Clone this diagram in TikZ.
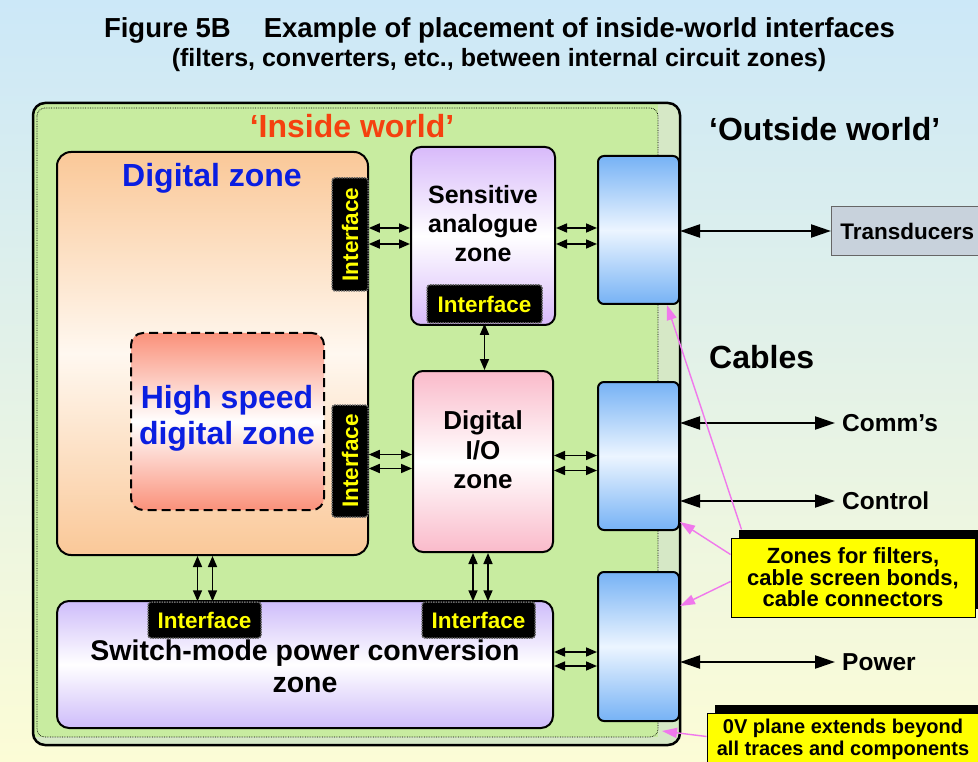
\documentclass[tikz,border=0pt]{standalone}
\usepackage{fontspec}
\setmainfont{Liberation Sans}
\usepackage{tikz}
\usetikzlibrary{arrows.meta,shadows}

\definecolor{bgtop}{RGB}{204,232,248}
\definecolor{bgbot}{RGB}{252,252,214}
\definecolor{boardgreen}{RGB}{200,236,160}
\definecolor{boardedge}{RGB}{214,232,198}
\definecolor{insidered}{RGB}{245,65,15}
\definecolor{zoneblue}{RGB}{10,30,225}
\definecolor{peach}{RGB}{250,200,152}
\definecolor{peachpale}{RGB}{255,248,240}
\definecolor{salmon}{RGB}{250,145,122}
\definecolor{lilac}{RGB}{216,186,250}
\definecolor{rosepink}{RGB}{250,186,202}
\definecolor{powerlilac}{RGB}{206,188,250}
\definecolor{connblue}{RGB}{118,178,245}
\definecolor{connpale}{RGB}{236,245,255}
\definecolor{ifyellow}{RGB}{255,255,0}
\definecolor{transgrey}{RGB}{200,210,220}
\definecolor{notepink}{RGB}{240,120,236}

\newcommand{\fsz}[2]{\fontsize{#1}{#2}\selectfont\bfseries}

\begin{document}
\begin{tikzpicture}[x=1pt, y=-1pt,
        zone/.style={draw, line width=2pt, rounded corners=14pt, inner sep=0pt},
        iface/.style={fill=black, draw=black!60, densely dotted, line width=1.5pt, rounded corners=3pt, inner sep=0pt,
                text=ifyellow, font=\fsz{22.5}{22.5}, minimum width=113pt, minimum height=36pt},
        conn/.style={draw, line width=2pt, rounded corners=6pt, minimum width=81pt, minimum height=148pt,
                top color=connblue, bottom color=connblue, middle color=connpale},
        link/.style={{Triangle[length=11pt,width=9pt]}-{Triangle[length=11pt,width=9pt]}, line width=1.6pt},
        cable/.style={{Triangle[length=20pt,width=13pt]}-{Triangle[length=20pt,width=13pt]}, line width=2.2pt},
        pointer/.style={-{Triangle[length=15pt,width=10pt]}, draw=notepink, line width=1.4pt},
        note/.style={draw, line width=1pt, fill=ifyellow, align=center, inner sep=0pt,
                drop shadow={shadow xshift=8pt, shadow yshift=8pt, fill=black, opacity=1}}]
        \clip (0,0) rectangle (978,762);
        \shade[top color=bgtop, bottom color=bgbot] (0,0) rectangle (978,762);

        \node[font=\fsz{27.5}{27.5}] (title) at (499.5,30) {Figure 5B\hspace{33pt}Example of placement of inside-world interfaces};
        \node[font=\fsz{25}{25}] (subtitle) at (499,60) {(filters, converters, etc., between internal circuit zones)};

        \fill[boardedge, rounded corners=12pt] (33,103) rectangle (680,745);
        \begin{scope}
                \clip[rounded corners=12pt] (33,103) rectangle (680,745);
                \fill[boardgreen] (20,90) rectangle (658,737);
        \end{scope}
        \draw[densely dotted, line width=0.7pt, rounded corners=8pt] (37,108) rectangle (658,737);
        \draw[line width=2.5pt, rounded corners=12pt] (33,103) rectangle (680,745);

        \node[zone, minimum width=311pt, minimum height=403pt, top color=peach, bottom color=peach, middle color=peachpale] (dz) at (212.5,353.5) {};
        \node[zone, dash pattern=on 9pt off 5pt, rounded corners=12pt, minimum width=193pt, minimum height=177pt,
                top color=salmon, bottom color=salmon, middle color=white] (hs) at (227.5,421.5) {};
        \node[zone, rounded corners=10pt, minimum width=144pt, minimum height=178pt, top color=lilac, bottom color=lilac, middle color=white] (sens) at (483,236) {};
        \node[zone, rounded corners=10pt, minimum width=140pt, minimum height=181pt, top color=rosepink, bottom color=rosepink, middle color=white] (dio) at (483,461.5) {};
        \node[zone, rounded corners=12pt, minimum width=496pt, minimum height=127pt, top color=powerlilac, bottom color=powerlilac, middle color=white] (pw) at (305,664.5) {};

        \node[font=\fsz{32}{32}, text=insidered] (insidelbl) at (352,126) {‘Inside world’};
        \node[font=\fsz{32}{32}, text=zoneblue] (dzlbl) at (212,178) {Digital zone};
        \node[font=\fsz{32}{36}, text=zoneblue, align=center] (hslbl) at (227,418) {High speed\\digital zone};
        \node[font=\fsz{25}{29}, align=center] (senslbl) at (483,224) {Sensitive\\analogue\\zone};
        \node[font=\fsz{26}{29.5}, align=center] (diolbl) at (483,450) {Digital\\I/O\\zone};
        \node[font=\fsz{28.5}{32}, align=center] (pwlbl) at (305,666) {Switch-mode power conversion\\zone};

        \node[iface, rotate=90] (ifA) at (350,234.5) {Interface};
        \node[iface, rotate=90, minimum width=112pt] (ifB) at (350,461) {Interface};
        \node[iface, minimum width=115pt, minimum height=38pt] (ifS) at (484.5,304) {Interface};
        \node[iface] (ifP1) at (204.5,620) {Interface};
        \node[iface] (ifP2) at (478.5,620) {Interface};

        \node[conn] (cz1) at (638.5,230) {};
        \node[conn] (cz2) at (638.5,456) {};
        \node[conn, minimum height=149pt] (cz3) at (638.5,646.5) {};

        \node[font=\fsz{32}{32}, anchor=west, inner sep=0pt] (outlbl) at (709,129) {‘Outside world’};
        \node[font=\fsz{32}{32}, anchor=west, inner sep=0pt] (cablbl) at (709,357) {Cables};
        \node[draw=black!60, fill=transgrey, line width=0.8pt, anchor=west, minimum height=49pt, text width=150pt,
                inner xsep=9pt, font=\fsz{22.5}{22.5}] (trans) at (831,231) {Transducers};
        \node[font=\fsz{24.5}{24.5}, anchor=west, inner xsep=7pt, inner ysep=0pt] (comms) at (835,423) {Comm’s};
        \node[font=\fsz{24.5}{24.5}, anchor=west, inner xsep=7pt, inner ysep=0pt] (ctrl) at (835,501) {Control};
        \node[font=\fsz{24.5}{24.5}, anchor=west, inner xsep=7pt, inner ysep=0pt] (pwr) at (835,662) {Power};

        \draw[link] ([yshift=8pt]sens.west) -- ([yshift=8pt]sens.west -| ifA.south);
        \draw[link] ([yshift=-8pt]sens.west) -- ([yshift=-8pt]sens.west -| ifA.south);
        \draw[link] ([yshift=8pt]sens.east) -- ([yshift=8pt]sens.east -| cz1.west);
        \draw[link] ([yshift=-8pt]sens.east) -- ([yshift=-8pt]sens.east -| cz1.west);
        \draw[link] (ifS.south) -- (ifS.south |- dio.north);
        \draw[link] ([yshift=7pt]dio.west) -- ([yshift=7pt]dio.west -| ifB.south);
        \draw[link] ([yshift=-7pt]dio.west) -- ([yshift=-7pt]dio.west -| ifB.south);
        \draw[link] ([yshift=6pt]dio.east) -- ([yshift=6pt]dio.east -| cz2.west);
        \draw[link] ([yshift=-9pt]dio.east) -- ([yshift=-9pt]dio.east -| cz2.west);
        \draw[link] ([yshift=12.5pt]pw.east) -- ([yshift=12.5pt]pw.east -| cz3.west);
        \draw[link] ([yshift=-1.5pt]pw.east) -- ([yshift=-1.5pt]pw.east -| cz3.west);
        \draw[link] ([xshift=-7pt]ifP1.north) -- ([xshift=-7pt]ifP1.north |- dz.south);
        \draw[link] ([xshift=8pt]ifP1.north) -- ([xshift=8pt]ifP1.north |- dz.south);
        \draw[link] ([xshift=-10pt]dio.south) -- ([xshift=-10pt]dio.south |- ifP2.north);
        \draw[link] ([xshift=5pt]dio.south) -- ([xshift=5pt]dio.south |- ifP2.north);

        \draw[cable] (cz1.east |- trans.west) -- (trans.west);
        \draw[cable] (cz2.east |- comms.west) -- (comms.west);
        \draw[cable] (cz2.east |- ctrl.west) -- (ctrl.west);
        \draw[cable] (cz3.east |- pwr.west) -- (pwr.west);

        \node[note, minimum width=244pt, minimum height=79pt, font=\fsz{22}{21.5}] (zones) at (853,577.5) {Zones for filters,\\cable screen bonds,\\cable connectors};
        \node[note, minimum width=272pt, minimum height=52pt, font=\fsz{20}{22}] (ov) at (843,739) {0V plane extends beyond\\all traces and components};
        \coordinate (planeedge) at (662,731);

        \draw[pointer] ([xshift=11pt,yshift=8pt]zones.north west) -- ([xshift=-13pt]cz1.south east);
        \draw[pointer] ([yshift=-17pt]zones.north west) -- ([yshift=9pt]cz2.south east);
        \draw[pointer] ([yshift=-44pt]zones.north west) -- ([yshift=-35pt]cz3.north east);
        \draw[pointer] ([yshift=-24pt]ov.north west) -- (planeedge);
\end{tikzpicture}
\end{document}
